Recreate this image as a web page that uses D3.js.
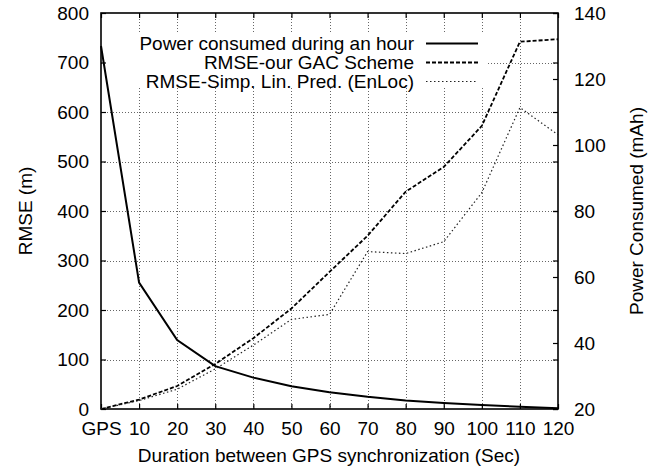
<!DOCTYPE html>
<html>
<head>
<meta charset="utf-8">
<script src="https://cdn.jsdelivr.net/npm/d3@7"></script>
<style>
  html, body { margin: 0; padding: 0; background: #fff; }
  svg text { font-family: "Liberation Sans", Arial, Helvetica, sans-serif; font-size: 19px; fill: #000; }
</style>
</head>
<body>
<svg id="chart" width="670" height="471"></svg>
<script>
// ---- data ----
const durations = [0, 10, 20, 30, 40, 50, 60, 70, 80, 90, 100, 110, 120];
const xTickLabels = ["GPS", "10", "20", "30", "40", "50", "60", "70", "80", "90", "100", "110", "120"];
const powerConsumed = [130, 58.3, 40.9, 33.0, 29.5, 26.9, 25.1, 23.7, 22.6, 21.8, 21.2, 20.7, 20.2];
const rmseGAC = [0, 19, 46.5, 91, 143, 203, 277, 350, 439, 489, 572, 742, 747];
const rmseEnLoc = [0, 17, 40, 81, 129, 181, 191, 318, 314, 338, 437, 609, 554];
const yTicks = [0, 100, 200, 300, 400, 500, 600, 700, 800];
const y2Ticks = [20, 40, 60, 80, 100, 120, 140];
const seriesNames = ["Power consumed during an hour", "RMSE-our GAC Scheme", "RMSE-Simp. Lin. Pred. (EnLoc)"];

// ---- layout ----
const L = 101, R = 558, T = 13, B = 409;
const svg = d3.select("#chart");
const x = d3.scaleLinear().domain([0, 120]).range([L, R]);
const y = d3.scaleLinear().domain([0, 800]).range([B, T]);
const y2 = d3.scaleLinear().domain([20, 140]).range([B, T]);

// grid
const grid = svg.append("g").attr("stroke", "#666").attr("stroke-width", 1).attr("stroke-dasharray", "1,2");
grid.selectAll("line.gx").data(durations.filter(d => d > 0 && d < 120)).enter().append("line")
  .attr("x1", d => Math.round(x(d)) + 0.5).attr("x2", d => Math.round(x(d)) + 0.5)
  .attr("y1", T).attr("y2", B);
grid.selectAll("line.gy").data(yTicks.filter(d => d > 0 && d < 800)).enter().append("line")
  .attr("y1", d => Math.round(y(d)) + 0.5).attr("y2", d => Math.round(y(d)) + 0.5)
  .attr("x1", L).attr("x2", R);

// legend background (opaque)
svg.append("rect").attr("x", L + 1).attr("y", 33).attr("width", 488 - L - 1).attr("height", 55).attr("fill", "#fff");

// axes
const fmtX = (d) => xTickLabels[durations.indexOf(d)];
const axB = svg.append("g").attr("transform", `translate(0,${B})`)
  .call(d3.axisBottom(x).tickValues(durations).tickFormat(fmtX).tickSize(-5).tickPadding(13));
const axT = svg.append("g").attr("transform", `translate(0,${T})`)
  .call(d3.axisTop(x).tickValues(durations).tickFormat("").tickSize(-5));
const axL = svg.append("g").attr("transform", `translate(${L},0)`)
  .call(d3.axisLeft(y).tickValues(yTicks).tickSize(-5).tickPadding(12));
const axLm = svg.append("g").attr("transform", `translate(${R},0)`)
  .call(d3.axisRight(y).tickValues(yTicks).tickFormat("").tickSize(-5));
const axR = svg.append("g").attr("transform", `translate(${R},0)`)
  .call(d3.axisRight(y2).tickValues(y2Ticks).tickSize(-5).tickPadding(16));
[axB, axT, axL, axLm, axR].forEach(a => {
  a.select(".domain").remove();
  a.attr("font-family", null).attr("font-size", null);
  a.selectAll("line").attr("stroke", "#000").attr("stroke-width", 1.2);
});

// border
svg.append("rect").attr("x", L).attr("y", T).attr("width", R - L).attr("height", B - T)
  .attr("fill", "none").attr("stroke", "#000").attr("stroke-width", 1.6);

// lines
const lineP = d3.line().x((d, i) => x(durations[i])).y(d => y2(d));
const lineR = d3.line().x((d, i) => x(durations[i])).y(d => y(d));
svg.append("path").datum(powerConsumed).attr("d", lineP).attr("fill", "none").attr("stroke", "#000").attr("stroke-width", 2);
svg.append("path").datum(rmseGAC).attr("d", lineR).attr("fill", "none").attr("stroke", "#000").attr("stroke-width", 1.8).attr("stroke-dasharray", "4,2");
svg.append("path").datum(rmseEnLoc).attr("d", lineR).attr("fill", "none").attr("stroke", "#222").attr("stroke-width", 1.2).attr("stroke-dasharray", "1.5,2.5");

// legend
const styles = [
  { w: 2, dash: null, c: "#000" },
  { w: 1.8, dash: "4,2", c: "#000" },
  { w: 1.2, dash: "1.5,2.5", c: "#222" }
];
const legBase = [49.5, 68.5, 87.5];
seriesNames.forEach((name, i) => {
  svg.append("text").attr("x", 414).attr("y", legBase[i]).attr("text-anchor", "end").text(name);
  svg.append("line").attr("x1", 426).attr("x2", 478).attr("y1", legBase[i] - 6).attr("y2", legBase[i] - 6)
    .attr("stroke", styles[i].c).attr("stroke-width", styles[i].w).attr("stroke-dasharray", styles[i].dash);
});

// axis titles
svg.append("text").attr("x", 329).attr("y", 462).attr("text-anchor", "middle").text("Duration between GPS synchronization (Sec)");
svg.append("text").attr("transform", "translate(32,211) rotate(-90)").attr("text-anchor", "middle").text("RMSE (m)");
svg.append("text").attr("transform", "translate(643,211) rotate(-90)").attr("text-anchor", "middle").text("Power Consumed (mAh)");
</script>
</body>
</html>
